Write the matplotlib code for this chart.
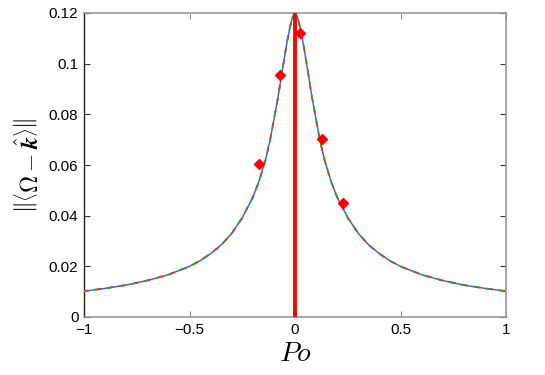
import matplotlib
matplotlib.use("Agg")
import matplotlib.pyplot as plt

plt.rcParams['mathtext.fontset'] = 'cm'
plt.rcParams['font.family'] = ['Liberation Sans', 'DejaVu Sans']

# Curve (three nearly identical series)
po = [-1.0, -0.9, -0.8, -0.7, -0.6, -0.5, -0.45, -0.4, -0.35, -0.3, -0.25, -0.2,
      -0.17, -0.14, -0.12, -0.1, -0.08, -0.06, -0.04, -0.025, -0.012, 0.0,
      0.012, 0.025, 0.04, 0.06, 0.08, 0.1, 0.12, 0.14, 0.17, 0.2, 0.25, 0.3,
      0.35, 0.4, 0.45, 0.5, 0.6, 0.7, 0.8, 0.9, 1.0]
blue_vals = [0.0102, 0.0113, 0.0126, 0.0144, 0.0167, 0.0200, 0.0222, 0.0250, 0.0284, 0.0330,
             0.0392, 0.0472, 0.0537, 0.0620, 0.0690, 0.0778, 0.0870, 0.0975, 0.1075, 0.1140,
             0.1183, 0.1200,
             0.1183, 0.1140, 0.1075, 0.0975, 0.0870, 0.0778, 0.0690, 0.0620, 0.0537, 0.0472,
             0.0392, 0.0330, 0.0284, 0.0250, 0.0222, 0.0200, 0.0167, 0.0144, 0.0126, 0.0113,
             0.0102]
red_vals = list(blue_vals)
green_vals = list(blue_vals)

# Red diamond markers
dia_po = [-0.172, -0.073, 0.026, 0.126, 0.228]
dia_vals = [0.0602, 0.0954, 0.112, 0.0701, 0.0449]

# Vertical red line at Po = 0
vline_po = 0.0
vline_range = [0.0, 0.12]

xticks = [-1, -0.5, 0, 0.5, 1]
xticklabels = ['\u22121', '\u22120.5', '0', '0.5', '1']
yticks = [0, 0.02, 0.04, 0.06, 0.08, 0.1, 0.12]
yticklabels = ['0', '0.02', '0.04', '0.06', '0.08', '0.1', '0.12']

fig = plt.figure(figsize=(5.45, 3.75), dpi=100)
ax = fig.add_axes([84/545, 1-317/375, (506-84)/545, (317-13)/375])

ax.plot(po, blue_vals, color='#3355ff', lw=1.0, ls='-', zorder=2)
ax.plot(po, red_vals, color='#ff2020', lw=1.3, ls=(0, (2.5, 4.5)), zorder=3)
ax.plot(po, green_vals, color='#22aa22', lw=1.3, ls=(1.5, (2.5, 4.5)), zorder=4)
ax.plot([vline_po, vline_po], vline_range, color='#ff0000', lw=2.8, zorder=5)
ax.plot(dia_po, dia_vals, ls='none', marker='D', color='#ff0000', ms=5.5, zorder=6)

ax.set_xlim(-1, 1)
ax.set_ylim(0, 0.12)
ax.set_xticks(xticks)
ax.set_xticklabels(xticklabels)
ax.set_yticks(yticks)
ax.set_yticklabels(yticklabels)
ax.tick_params(direction='in', length=4, width=0.8, labelsize=11, top=True, right=True,
               colors='#888888', labelcolor='black', pad=4)
ax.tick_params(axis='y', which='both', color='#333333')
for s in ['top', 'right', 'bottom']:
    ax.spines[s].set_color('#999999')
    ax.spines[s].set_linewidth(1.2)
ax.spines['left'].set_color('#222222')
ax.spines['left'].set_linewidth(1.0)

ax.set_xlabel(r'$Po$', fontsize=20, labelpad=3)
ax.set_ylabel(r'$\left\|\left\langle \mathbf{\Omega} - \hat{\mathbfit{k}}\right\rangle\right\|$',
              fontsize=17, labelpad=4)

fig.savefig('out.png', dpi=100)
